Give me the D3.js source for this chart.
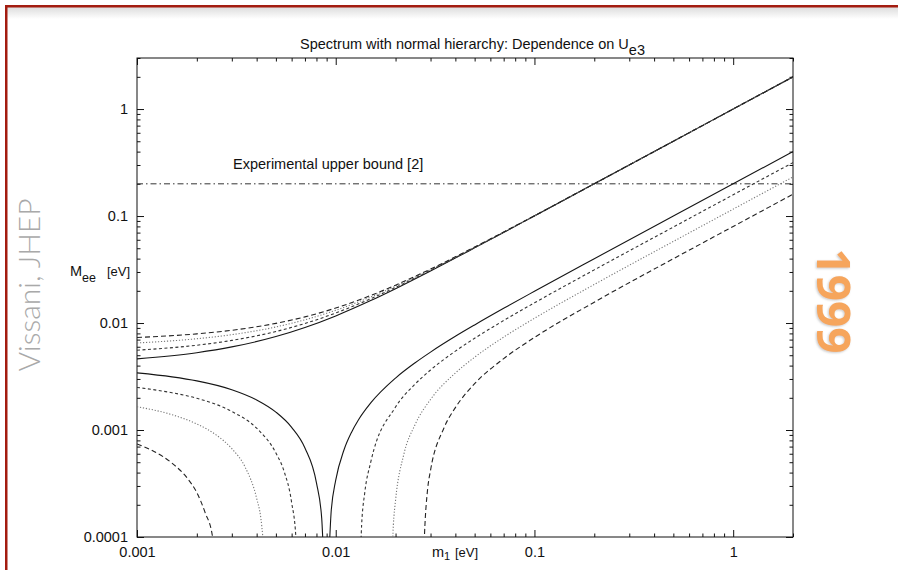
<!DOCTYPE html>
<html>
<head>
<meta charset="utf-8">
<script src="https://cdn.jsdelivr.net/npm/d3@7"></script>
<style>
  body { margin: 0; background: #fff; }
  svg { display: block; font-family: "Liberation Sans", Arial, Helvetica, sans-serif; }
  .axis text { font-size: 14.5px; fill: #111; font-family: "Liberation Sans", Arial, sans-serif; }
  .axis line { stroke: #111; stroke-width: 1; }
  .label { font-size: 14.5px; fill: #111; }
  .curve { fill: none; }
</style>
</head>
<body>
<div id="chart"></div>
<script>
// Axis ticks
const xMajorTicks = [0.001, 0.01, 0.1, 1];
const xTickLabels = ["0.001", "0.01", "0.1", "1"];
const yMajorTicks = [0.0001, 0.001, 0.01, 0.1, 1];
const yTickLabels = ["0.0001", "0.001", "0.01", "0.1", "1"];
const upperBound = 0.2;

// Upper branch (all four curves on one m1 grid)
const m1Upper = [0.001, 0.002, 0.003, 0.005, 0.007, 0.01, 0.015, 0.02, 0.03, 0.05, 0.1, 0.2, 0.5, 1, 2];
const meeUpperSolid = [0.00462, 0.00528, 0.00598, 0.00747, 0.00908, 0.01166, 0.01621, 0.02094, 0.03065, 0.0504, 0.1002, 0.2001, 0.5, 1.0, 2.0];
const meeUpperDashed = [0.00557, 0.0062, 0.00688, 0.00833, 0.0099, 0.01241, 0.01687, 0.02152, 0.0311, 0.0507, 0.1004, 0.2002, 0.5, 1.0, 2.0];
const meeUpperDotted = [0.00651, 0.00713, 0.00778, 0.00919, 0.01072, 0.01316, 0.01753, 0.0221, 0.03156, 0.051, 0.1005, 0.2003, 0.5, 1.0, 2.0];
const meeUpperLongDash = [0.00732, 0.00792, 0.00855, 0.00993, 0.01142, 0.01381, 0.01809, 0.02259, 0.03194, 0.05127, 0.1007, 0.2004, 0.5, 1.0, 2.0];

// Lower branch (cancellation), each curve dips below the axis
const m1LowerSolid = [0.001, 0.0015, 0.002, 0.003, 0.004, 0.005, 0.006, 0.007, 0.008, 0.0085, 0.0088, 0.0091, 0.0095, 0.01, 0.011, 0.012, 0.013, 0.015, 0.02, 0.025, 0.03, 0.04, 0.05, 0.07, 0.1, 0.2, 0.5, 1, 2];
const meeLowerSolid = [0.00342, 0.00314, 0.00288, 0.00238, 0.00191, 0.00147, 0.00106, 0.00068, 0.00032, 0.00015, 0.00005, 0.00005, 0.00018, 0.00034, 0.00065, 0.00095, 0.00124, 0.00179, 0.00306, 0.00423, 0.00535, 0.00751, 0.0096, 0.01372, 0.0198, 0.0399, 0.1, 0.2, 0.4];

const m1LowerDashed = [0.001, 0.0015, 0.002, 0.003, 0.004, 0.005, 0.0055, 0.006, 0.0063, 0.0065, 0.0131, 0.0135, 0.014, 0.015, 0.02, 0.025, 0.03, 0.04, 0.05, 0.07, 0.1, 0.2, 0.5, 1, 2];
const meeLowerDashed = [0.0025, 0.00223, 0.00198, 0.00149, 0.00104, 0.00061, 0.00041, 0.00021, 0.0001, 0.00002, 0.00003, 0.00013, 0.00026, 0.0005, 0.00164, 0.00267, 0.00364, 0.00546, 0.0072, 0.01055, 0.01544, 0.0314, 0.0789, 0.158, 0.316];

const m1LowerDotted = [0.001, 0.0015, 0.002, 0.0025, 0.003, 0.0035, 0.004, 0.0042, 0.0044, 0.0046, 0.0189, 0.0195, 0.02, 0.022, 0.025, 0.03, 0.04, 0.05, 0.07, 0.1, 0.2, 0.5, 1, 2];
const meeLowerDotted = [0.00165, 0.00139, 0.00114, 0.0009, 0.00067, 0.00045, 0.00023, 0.00015, 0.00006, 0.00002, 0.00003, 0.00013, 0.00022, 0.00059, 0.00111, 0.00193, 0.00341, 0.00479, 0.00738, 0.01107, 0.02293, 0.0579, 0.116, 0.232];

const m1LowerLongDash = [0.001, 0.0012, 0.0015, 0.0018, 0.002, 0.0022, 0.0024, 0.0025, 0.0272, 0.028, 0.029, 0.03, 0.035, 0.04, 0.05, 0.07, 0.1, 0.2, 0.5, 1, 2];
const meeLowerLongDash = [0.00074, 0.00064, 0.00049, 0.00035, 0.00026, 0.00017, 0.0001, 0.00004, 0.00002, 0.00011, 0.00028, 0.00042, 0.00104, 0.00162, 0.00271, 0.00465, 0.00733, 0.01566, 0.0399, 0.0799, 0.16];

class MeeChart {
  constructor(_config, _curves) {
    this.config = {
      parentElement: _config.parentElement,
      containerWidth: _config.containerWidth || 898,
      containerHeight: _config.containerHeight || 570,
      margin: _config.margin || { top: 58, right: 105, bottom: 33, left: 137 },
    };
    this.curves = _curves;
    this.initVis();
  }

  initVis() {
    let vis = this;
    const m = vis.config.margin;
    vis.width = vis.config.containerWidth - m.left - m.right;
    vis.height = vis.config.containerHeight - m.top - m.bottom;

    vis.svg = d3.select(vis.config.parentElement).append("svg")
      .attr("width", vis.config.containerWidth)
      .attr("height", vis.config.containerHeight);

    const defs = vis.svg.append("defs");
    const shade = defs.append("linearGradient").attr("id", "topShade")
      .attr("x1", 0).attr("x2", 0).attr("y1", 0).attr("y2", 1);
    shade.append("stop").attr("offset", "0%").attr("stop-color", "#dcdcdc");
    shade.append("stop").attr("offset", "100%").attr("stop-color", "#fff");
    defs.append("filter").attr("id", "soft")
      .append("feDropShadow").attr("dx", 1).attr("dy", 1)
      .attr("stdDeviation", 1).attr("flood-color", "#888").attr("flood-opacity", 0.45);
    defs.append("clipPath").attr("id", "plotClip")
      .append("rect").attr("width", vis.width).attr("height", vis.height);

    // Slide frame
    vis.svg.append("rect").attr("x", 7).attr("y", 7).attr("width", 891).attr("height", 12)
      .attr("fill", "url(#topShade)");
    vis.svg.append("rect").attr("x", 5).attr("y", 5).attr("width", 893).attr("height", 2.5)
      .attr("fill", "#a31c10");
    vis.svg.append("rect").attr("x", 5).attr("y", 5).attr("width", 2.5).attr("height", 565)
      .attr("fill", "#a31c10");

    // Side captions
    vis.svg.append("text")
      .attr("transform", "translate(40,285) rotate(-90)")
      .attr("text-anchor", "middle")
      .style("font-family", "Lato, 'Open Sans', sans-serif")
      .style("font-weight", 300)
      .style("font-size", "30px")
      .attr("fill", "#a9a9a9")
      .text("Vissani, JHEP");

    vis.svg.append("text")
      .attr("transform", "translate(817,301) rotate(90)")
      .attr("text-anchor", "middle")
      .attr("filter", "url(#soft)")
      .style("font-family", "'Open Sans', sans-serif")
      .style("font-weight", 700)
      .style("font-size", "46px")
      .attr("fill", "#f6a55b")
      .text("1999");

    vis.chart = vis.svg.append("g")
      .attr("transform", `translate(${m.left},${m.top})`);

    vis.xScale = d3.scaleLog().domain([0.001, 2]).range([0, vis.width]);
    vis.yScale = d3.scaleLog().domain([0.0001, 3]).range([vis.height, 0]);

    vis.renderVis();
  }

  renderVis() {
    let vis = this;

    const xMinor = [];
    xMajorTicks.forEach((d) => d3.range(2, 10).forEach((k) => { if (k * d <= 2) xMinor.push(k * d); }));
    const yMinor = [];
    yMajorTicks.forEach((d) => d3.range(2, 10).forEach((k) => { if (k * d <= 3) yMinor.push(k * d); }));

    const addAxis = (axisFn, scale, values, size, transform) => {
      const g = vis.chart.append("g").attr("class", "axis").attr("transform", transform);
      g.call(axisFn(scale).tickValues(values).tickSize(size).tickFormat(""));
      g.select(".domain").remove();
      return g;
    };

    // Inward ticks on all four sides
    addAxis(d3.axisBottom, vis.xScale, xMinor, -3.5, `translate(0,${vis.height})`);
    addAxis(d3.axisTop, vis.xScale, xMinor, -3.5, "translate(0,0)");
    addAxis(d3.axisLeft, vis.yScale, yMinor, -3.5, "translate(0,0)");
    addAxis(d3.axisRight, vis.yScale, yMinor, -3.5, `translate(${vis.width},0)`);
    addAxis(d3.axisTop, vis.xScale, xMajorTicks, -7, "translate(0,0)");
    addAxis(d3.axisRight, vis.yScale, yMajorTicks, -7, `translate(${vis.width},0)`);

    const xAxisG = vis.chart.append("g").attr("class", "axis")
      .attr("transform", `translate(0,${vis.height})`)
      .call(d3.axisBottom(vis.xScale).tickValues(xMajorTicks).tickSize(-7)
        .tickFormat((d, i) => xTickLabels[i]));
    xAxisG.select(".domain").remove();
    xAxisG.selectAll("text").attr("y", 20).attr("dy", 0);

    const yAxisG = vis.chart.append("g").attr("class", "axis")
      .call(d3.axisLeft(vis.yScale).tickValues(yMajorTicks).tickSize(-7).tickPadding(9)
        .tickFormat((d, i) => yTickLabels[i]));
    yAxisG.select(".domain").remove();

    // Plot frame
    vis.chart.append("rect")
      .attr("width", vis.width).attr("height", vis.height)
      .attr("fill", "none").attr("stroke", "#111").attr("stroke-width", 1);

    // Experimental bound
    vis.chart.append("line")
      .attr("x1", 0).attr("x2", vis.width)
      .attr("y1", vis.yScale(upperBound)).attr("y2", vis.yScale(upperBound))
      .attr("stroke", "#333").attr("stroke-width", 1)
      .attr("stroke-dasharray", "6,3,1.5,3");

    const lineStyles = {
      solid: { dash: null, color: "#151515", width: 1.1 },
      dashed: { dash: "3,2.5", color: "#333", width: 1.1 },
      dotted: { dash: "1.2,1.8", color: "#777", width: 1.1 },
      longdash: { dash: "5,3", color: "#222", width: 1.1 },
    };

    const line = d3.line()
      .x((d) => vis.xScale(d.m1))
      .y((d) => vis.yScale(d.mee))
      .curve(d3.curveMonotoneX);

    vis.chart.append("g").attr("clip-path", "url(#plotClip)")
      .selectAll(".curve")
      .data(vis.curves)
      .join("path")
      .attr("class", "curve")
      .attr("d", (c) => line(c.m1.map((x, i) => ({ m1: x, mee: c.mee[i] }))))
      .attr("stroke", (c) => lineStyles[c.style].color)
      .attr("stroke-width", (c) => lineStyles[c.style].width)
      .attr("stroke-dasharray", (c) => lineStyles[c.style].dash);

    // Title and labels
    const title = vis.svg.append("text").attr("class", "label").attr("x", 300).attr("y", 49);
    title.append("tspan").text("Spectrum with normal hierarchy: Dependence on U");
    title.append("tspan").attr("dy", 6).text("e3");

    vis.svg.append("text").attr("class", "label")
      .attr("x", 233).attr("y", 169)
      .text("Experimental upper bound [2]");

    const yLabel = vis.svg.append("text").attr("class", "label").attr("x", 70).attr("y", 276);
    yLabel.append("tspan").text("M");
    yLabel.append("tspan").attr("dy", 6).style("font-size", "12.5px").text("ee");
    yLabel.append("tspan").attr("x", 107).attr("dy", -6).style("font-size", "13px").text("[eV]");

    const xLabel = vis.svg.append("text").attr("class", "label").attr("x", 432).attr("y", 557);
    xLabel.append("tspan").text("m");
    xLabel.append("tspan").attr("dy", 3).style("font-size", "11px").text("1");
    xLabel.append("tspan").attr("x", 455).attr("dy", -3).style("font-size", "13px").text("[eV]");
  }
}

const curves = [
  { m1: m1Upper, mee: meeUpperSolid, style: "solid" },
  { m1: m1Upper, mee: meeUpperDashed, style: "dashed" },
  { m1: m1Upper, mee: meeUpperDotted, style: "dotted" },
  { m1: m1Upper, mee: meeUpperLongDash, style: "longdash" },
  { m1: m1LowerSolid, mee: meeLowerSolid, style: "solid" },
  { m1: m1LowerDashed, mee: meeLowerDashed, style: "dashed" },
  { m1: m1LowerDotted, mee: meeLowerDotted, style: "dotted" },
  { m1: m1LowerLongDash, mee: meeLowerLongDash, style: "longdash" },
];

new MeeChart({ parentElement: "#chart" }, curves);
</script>
</body>
</html>
